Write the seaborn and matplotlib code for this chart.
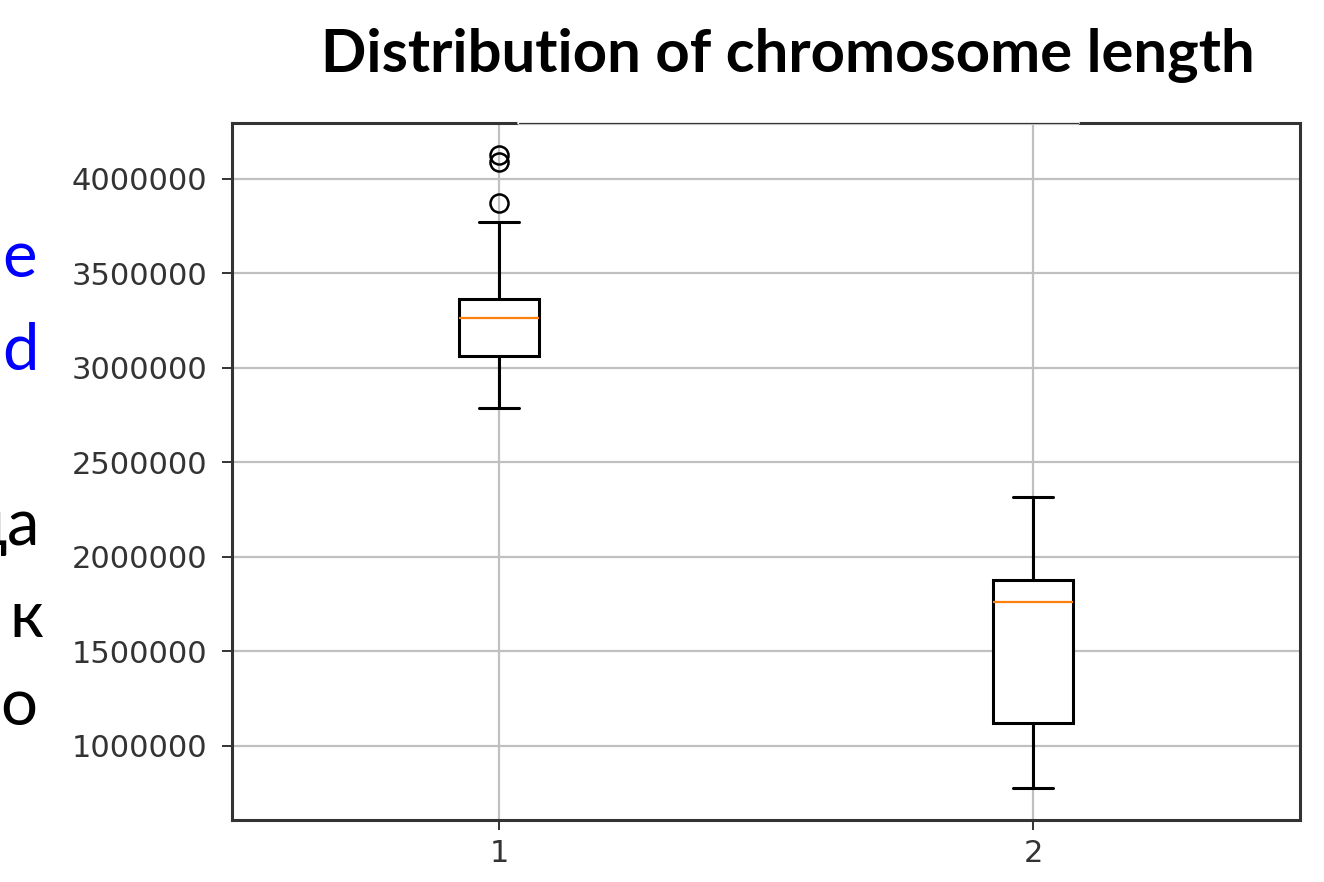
import numpy as np
import pandas as pd
import matplotlib
matplotlib.use('Agg')
import matplotlib.pyplot as plt
import seaborn as sns

# valores (comprimento do cromossomo, em pb)
grupo_1 = [2788000, 2900000, 2960000, 3020000, 3063000, 3120000, 3180000, 3230000,
           3265000, 3290000, 3320000, 3345000, 3365000, 3772000, 3875000, 4090000, 4127000]
grupo_2 = [778000, 950000, 1122000, 1500000, 1762000, 1820000, 1878000, 2100000, 2317000]
rotulos = ['1', '2']
titulo = 'Distribution of chromosome length'
letras_azuis = ['e', 'd']
letras_pretas = ['a', 'к', 'o']

df = pd.DataFrame({
    'grupo': [rotulos[0]] * len(grupo_1) + [rotulos[1]] * len(grupo_2),
    'comprimento': grupo_1 + grupo_2,
})

sns.set_style('whitegrid')
plt.rcParams['font.family'] = ['DejaVu Sans']

fig = plt.figure(figsize=(13.24, 8.82), dpi=100)
ax = fig.add_axes([0.1752, 0.0703, 0.8067, 0.7902])

sns.boxplot(data=df, x='grupo', y='comprimento', order=rotulos, ax=ax,
            width=0.15, color='white', linecolor='black', linewidth=2.2,
            medianprops={'color': '#ff7f0e', 'linewidth': 1.6},
            flierprops={'marker': 'o', 'markersize': 13, 'markerfacecolor': 'none',
                        'markeredgecolor': 'black', 'markeredgewidth': 1.8})

ax.set_xlim(-0.5, 1.5)
ax.set_ylim(608500, 4296000)
ax.set_yticks([1000000, 1500000, 2000000, 2500000, 3000000, 3500000, 4000000])
ax.ticklabel_format(style='plain', axis='y', useOffset=False)
ax.set_xlabel('')
ax.set_ylabel('')
ax.grid(True, color='#c0c0c0', linewidth=1.6)
ax.set_axisbelow(True)
ax.tick_params(axis='both', labelsize=22, colors='#333333', length=7, width=1.4,
               direction='out', left=True, bottom=True)
ax.tick_params(axis='y', pad=11)
ax.tick_params(axis='x', pad=7)
for lado in ax.spines.values():
    lado.set_color('#333333')
    lado.set_linewidth(2.2)

# parte mais fina da borda de cima
ax.axhline(4296000, xmin=0.269, xmax=0.792, color='white', linewidth=2.6, clip_on=False, zorder=5)
ax.axhline(4296000, xmin=0.269, xmax=0.792, color='#333333', linewidth=0.9, clip_on=False, zorder=6)

fig.text(0.595, 0.918, titulo, ha='center', va='baseline', fontsize=43,
         fontweight='bold', family=['Lato', 'DejaVu Sans'], color='black')

# pedacos de texto do slide cortados na esquerda
fonte = ['Lato', 'DejaVu Sans']
for letra, y in zip(letras_azuis, [0.686, 0.58]):
    fig.text(0.002, y, letra, ha='left', va='baseline', fontsize=47,
             family=fonte, color='#0000ff')
for letra, x, y in zip(letras_pretas, [0.005, 0.007, 0.0], [0.382, 0.278, 0.178]):
    fig.text(x, y, letra, ha='left', va='baseline', fontsize=47,
             family=fonte, color='black')
# so a cauda da letra anterior aparece
fig.text(0.005, 0.382, 'ц', ha='right', va='baseline', fontsize=47,
         family=fonte, color='black')

plt.savefig('out.png', dpi=100)
